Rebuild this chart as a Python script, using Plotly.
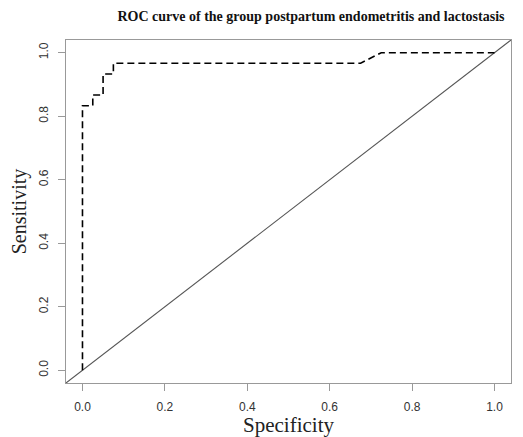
import plotly.graph_objects as go

# ROC curve data
specificity = [0.0, 0.0, 0.025, 0.025, 0.05, 0.05, 0.075, 0.075, 0.675, 0.725, 1.0]
sensitivity = [0.0, 0.833, 0.833, 0.867, 0.867, 0.933, 0.933, 0.967, 0.967, 1.0, 1.0]

tick_vals = [0.0, 0.2, 0.4, 0.6, 0.8, 1.0]
tick_text = ["0.0", "0.2", "0.4", "0.6", "0.8", "1.0"]
axis_range = [-0.04, 1.04]

title_text = "ROC curve of the group postpartum endometritis and lactostasis"

# page body adds an 8px offset, so the figure is sized to the remaining window
W, H = 515, 429

fig = go.Figure()

# reference diagonal (y = x) across the whole plot region
fig.add_trace(go.Scatter(
    x=axis_range, y=axis_range, mode="lines",
    line=dict(color="#555555", width=1.1),
    hoverinfo="skip", showlegend=False,
))

fig.add_trace(go.Scatter(
    x=specificity, y=sensitivity, mode="lines",
    line=dict(color="black", width=1.6, dash="7px,4px"),
    showlegend=False,
))

axis_common = dict(
    range=axis_range,
    tickvals=tick_vals,
    ticktext=tick_text,
    showgrid=False,
    zeroline=False,
    showline=True,
    mirror=True,
    linecolor="#999999",
    linewidth=1.2,
    ticks="outside",
    ticklen=7,
    tickcolor="#999999",
    tickwidth=1,
    tickfont=dict(family="Liberation Sans, Arial", size=12, color="#333333"),
    ticklabelstandoff=5,
    automargin=False,
)

fig.update_layout(
    width=W, height=H,
    margin=dict(l=58, r=12, t=32, b=54),
    paper_bgcolor="white",
    plot_bgcolor="white",
    title=dict(
        text="<b>" + title_text + "</b>",
        font=dict(family="Liberation Serif, Times New Roman", size=14, color="#111111"),
        x=303 / W, xanchor="center", y=1 - 8 / H, yanchor="middle",
    ),
    xaxis=dict(
        **axis_common,
        title=dict(text="Specificity",
                   font=dict(family="Liberation Serif, Times New Roman", size=21, color="#222222"),
                   standoff=2),
    ),
    yaxis=dict(
        **axis_common,
        tickangle=-90,
        title=dict(text="Sensitivity",
                   font=dict(family="Liberation Serif, Times New Roman", size=20, color="#222222"),
                   standoff=6),
    ),
)

fig.write_html("out.html")
